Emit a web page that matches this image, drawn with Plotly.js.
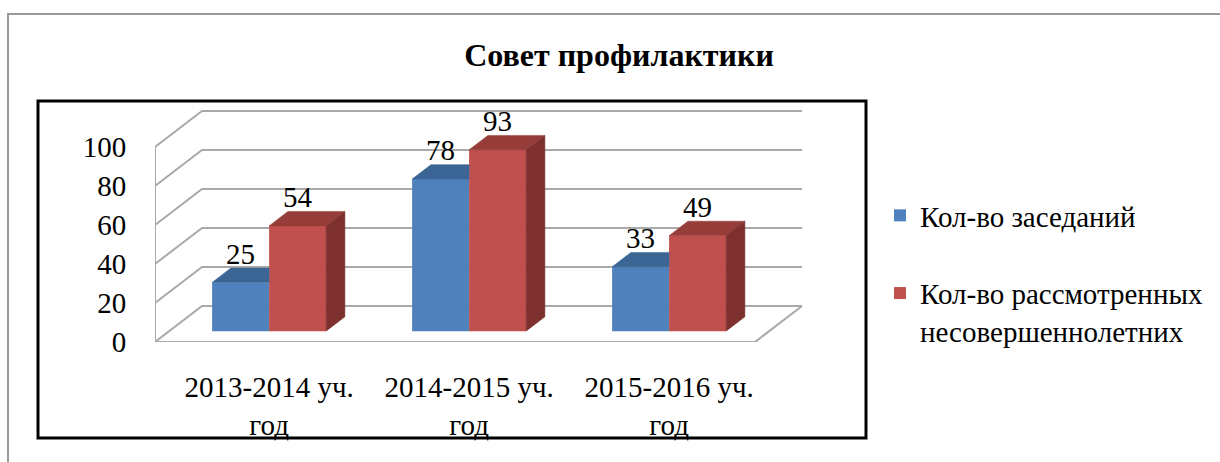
<!DOCTYPE html>
<html>
<head>
<meta charset="utf-8">
<script src="https://cdn.plot.ly/plotly-3.0.1.min.js"></script>
<style>
  html, body { margin: 0; padding: 0; background: #ffffff; }
  #chart { width: 1220px; height: 462px; }
</style>
</head>
<body>
<div id="chart"></div>
<script>
// ---- data ----
const categories = ['2013-2014 уч.<br>год', '2014-2015 уч.<br>год', '2015-2016 уч.<br>год'];
const seriesNames = ['Кол-во заседаний', 'Кол-во рассмотренных<br>несовершеннолетних'];
const sessions = [25, 78, 33];
const minors = [54, 93, 49];
const yTicks = [0, 20, 40, 60, 80, 100];
const chartTitle = 'Совет профилактики';

// ---- geometry (oblique 3D look) ----
const FONT = '"Liberation Serif"';
const FS = 29;
const DX = 0.235, DY = 18.5;          // full depth offset in data units
const BAR_DEPTH0 = 0.30;              // depth of bar front face
const BAR_DEPTH = 0.40;               // bar thickness (fraction of depth)
const BX = DX * BAR_DEPTH0, BY = DY * BAR_DEPTH0;
const BDX = DX * BAR_DEPTH, BDY = DY * BAR_DEPTH;
const W = 0.285;                      // bar width
const X0 = -0.5, X1 = categories.length - 0.5;
const yMax = yTicks[yTicks.length - 1];

const colors = {
  blue: '#4F81BD', blueTop: '#3B6595',
  red: '#C0504D', redTop: '#963C39', redSide: '#7D302E',
  grid: '#A9A9A9'
};

// plot area geometry (pixels)
const M = { l: 155, r: 365, t: 108, b: 120 };
const PW = 1220 - M.l - M.r, PH = 462 - M.t - M.b;
const px = v => (v - M.l) / PW;
const py = v => (462 - M.b - v) / PH;

// ---- walls / floor ----
const wx = [], wy = [];
yTicks.forEach(t => {
  wx.push(X0, X0 + DX, X1 + DX, null);
  wy.push(t, t + DY, t + DY, null);
});
wx.push(X0, X0, null); wy.push(0, yMax, null);
wx.push(X0, X1, X1 + DX, null); wy.push(0, 0, DY, null);

const walls = {
  x: wx, y: wy, type: 'scatter', mode: 'lines', xaxis: 'x', yaxis: 'y',
  line: { color: colors.grid, width: 2 }, hoverinfo: 'skip', showlegend: false
};

// ---- bars ----
const centers = categories.map((c, i) => i + BX);
const blueBars = {
  type: 'bar', name: seriesNames[0], x: centers, y: sessions, base: BY,
  width: W, offset: -W, marker: { color: colors.blue, line: { width: 0 } },
  xaxis: 'x2', yaxis: 'y2', legendgroup: 'a', hoverinfo: 'skip'
};
const redBars = {
  type: 'bar', name: seriesNames[1], x: centers, y: minors, base: BY,
  width: W, offset: 0, marker: { color: colors.red, line: { width: 0 } },
  xaxis: 'x2', yaxis: 'y2', legendgroup: 'b', hoverinfo: 'skip'
};

// faces
function poly(pts, arrX, arrY) { pts.forEach(p => { arrX.push(p[0]); arrY.push(p[1]); }); arrX.push(null); arrY.push(null); }
const btX = [], btY = [], rtX = [], rtY = [], rsX = [], rsY = [];
centers.forEach((xc, i) => {
  const Tb = BY + sessions[i];
  poly([[xc - W, Tb], [xc, Tb], [xc, Tb + BDY], [xc - W + BDX, Tb + BDY], [xc - W, Tb]], btX, btY);
  const Tr = BY + minors[i];
  poly([[xc, Tr], [xc + W, Tr], [xc + W + BDX, Tr + BDY], [xc + BDX, Tr + BDY], [xc, Tr]], rtX, rtY);
  poly([[xc + W, BY], [xc + W, Tr], [xc + W + BDX, Tr + BDY], [xc + W + BDX, BY + BDY], [xc + W, BY]], rsX, rsY);
});
const face = (x, y, c) => ({
  x, y, type: 'scatter', mode: 'lines', fill: 'toself', fillcolor: c,
  line: { width: 0.5, color: c }, xaxis: 'x2', yaxis: 'y2', hoverinfo: 'skip', showlegend: false
});

// labels
const labels = {
  type: 'scatter', mode: 'text', xaxis: 'x2', yaxis: 'y2', showlegend: false, hoverinfo: 'skip',
  x: centers.map(c => c - W / 2).concat(centers.map(c => c + W / 2)),
  y: sessions.map(v => v + BY + BDY + 6).concat(minors.map(v => v + BY + BDY + 6)),
  text: sessions.map(String).concat(minors.map(String)),
  textposition: 'middle center', cliponaxis: false,
  textfont: { family: FONT, size: FS, color: '#000' }
};

const data = [walls, blueBars, redBars,
  face(btX, btY, colors.blueTop), face(rtX, rtY, colors.redTop), face(rsX, rsY, colors.redSide),
  labels];

const xr = [X0, X0 + PW / 200];
const yr = [0, PH / 1.95];

const layout = {
  width: 1220, height: 462,
  margin: M,
  paper_bgcolor: '#ffffff', plot_bgcolor: 'rgba(0,0,0,0)',
  font: { family: FONT, size: FS, color: '#000' },
  title: {
    text: '<b>' + chartTitle + '</b>',
    font: { family: FONT, size: 32, color: '#000' },
    xref: 'paper', x: px(619), xanchor: 'center',
    yref: 'container', y: 1 - 55 / 462, yanchor: 'middle'
  },
  xaxis: {
    range: xr, tickmode: 'array', tickvals: centers, ticktext: categories,
    showgrid: false, zeroline: false, showline: false,
    ticks: 'outside', ticklen: 19, tickcolor: 'rgba(0,0,0,0)',
    tickfont: { family: FONT, size: FS, color: '#000' }, fixedrange: true
  },
  yaxis: {
    range: yr, tickmode: 'array', tickvals: yTicks, ticktext: yTicks.map(String),
    showgrid: false, zeroline: false, showline: false,
    ticks: 'outside', ticklen: 22, tickcolor: 'rgba(0,0,0,0)',
    tickfont: { family: FONT, size: FS, color: '#000' }, fixedrange: true
  },
  xaxis2: { range: xr, overlaying: 'x', visible: false, fixedrange: true },
  yaxis2: { range: yr, overlaying: 'y', visible: false, fixedrange: true },
  showlegend: true,
  legend: {
    x: px(880), xanchor: 'left', y: py(190), yanchor: 'top',
    font: { family: FONT, size: FS, color: '#000' },
    tracegroupgap: 37, valign: 'top', bgcolor: 'rgba(0,0,0,0)'
  },
  shapes: [
    { type: 'rect', xref: 'paper', yref: 'paper', x0: px(38), x1: px(866), y0: py(438), y1: py(101),
      line: { color: '#000', width: 3 }, fillcolor: 'rgba(0,0,0,0)', layer: 'above' },
    { type: 'path', xref: 'paper', yref: 'paper',
      path: 'M ' + px(8) + ' ' + py(475) + ' L ' + px(8) + ' ' + py(14) + ' L ' + px(1230) + ' ' + py(14),
      line: { color: '#9A9A9A', width: 2 } }
  ]
};

Plotly.newPlot('chart', data, layout, { displayModeBar: false, staticPlot: true });
</script>
</body>
</html>
